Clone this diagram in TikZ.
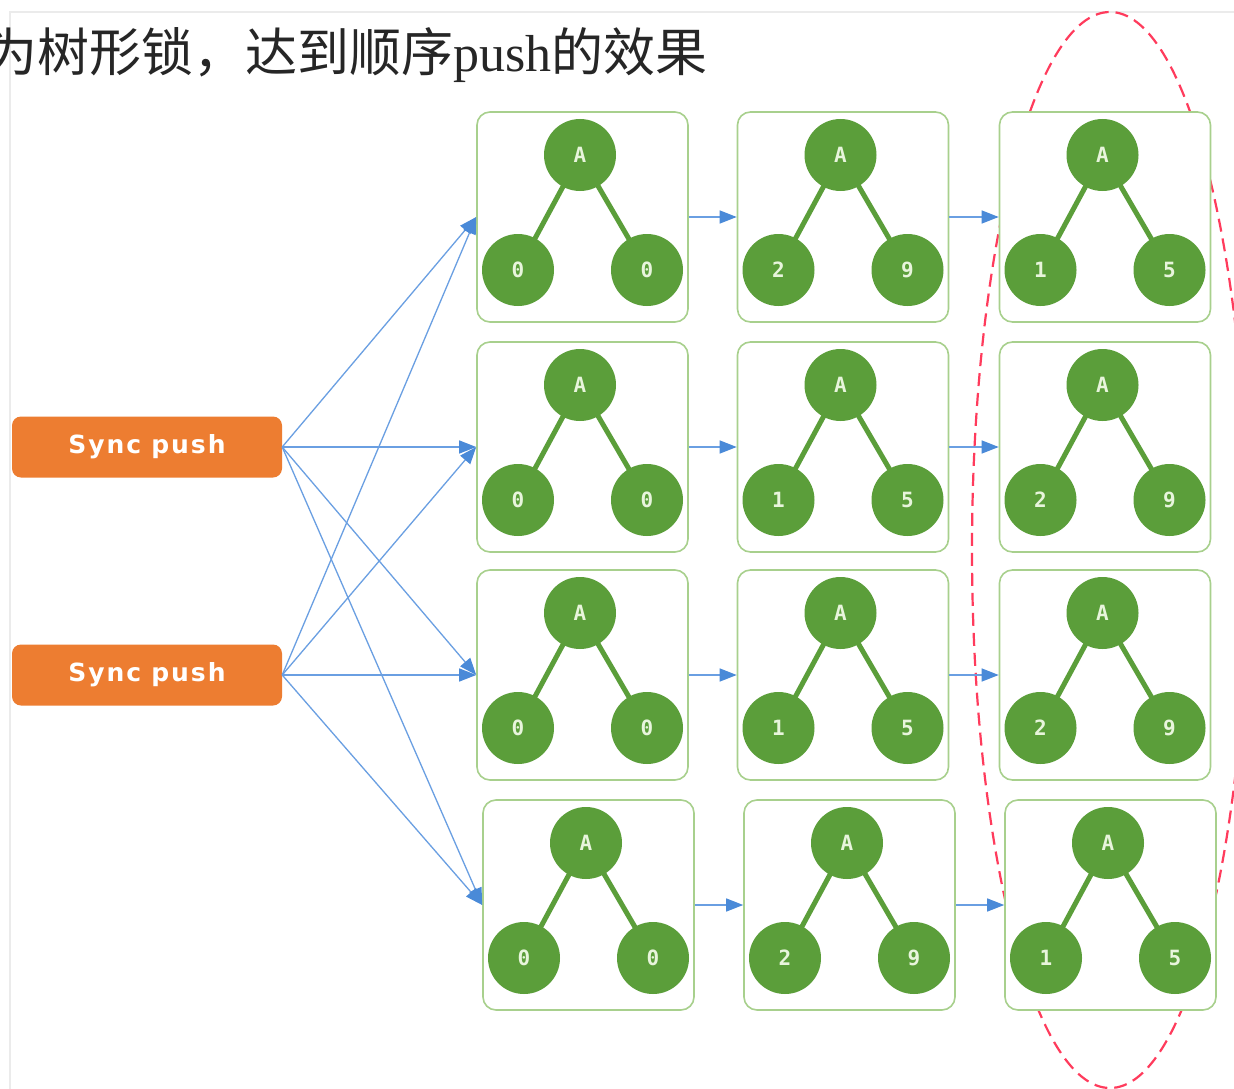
\documentclass[tikz,border=0pt]{standalone}
\usepackage{fontspec}
\newfontfamily\cjk{Noto Sans CJK SC}
\newfontfamily\titlelatin{Liberation Serif}
\newfontfamily\syncfont[LetterSpace=8]{DejaVu Sans}
\newfontfamily\labelmono{DejaVu Sans Mono}
\usetikzlibrary{arrows.meta}
\definecolor{boxgreen}{HTML}{A8D08D}
\definecolor{nodegreen}{HTML}{5B9E3A}
\definecolor{labelwhite}{HTML}{E8F5DC}
\definecolor{syncorange}{HTML}{ED7D31}
\definecolor{linkblue}{HTML}{6A9FE2}
\definecolor{tipblue}{HTML}{4A8AD8}
\definecolor{ovalred}{HTML}{FF3B5C}
\newcommand\treepanel[5]{%
  \node[treebox] (#1) at (#2,#3) {};
  \node[treenode] (#1A) at ({#2-2.5},{#3-62}) {A};
  \node[treenode] (#1L) at ({#2-64.5},{#3+53}) {#4};
  \node[treenode] (#1R) at ({#2+64.5},{#3+53}) {#5};
  \draw[treeedge] (#1A) -- (#1L);
  \draw[treeedge] (#1A) -- (#1R);
}
\begin{document}
\begin{tikzpicture}[x=1pt,y=-1pt,
  treebox/.style={draw=boxgreen, line width=1.6pt, fill=white, rounded corners=13pt,
    minimum width=211pt, minimum height=210pt, inner sep=0pt},
  treenode/.style={circle, fill=nodegreen, minimum size=72pt, inner sep=0pt,
    text=labelwhite, font=\labelmono\bfseries\fontsize{21}{21}\selectfont},
  treeedge/.style={draw=nodegreen, line width=5pt, shorten <=-2pt, shorten >=-2pt},
  syncbox/.style={rounded corners=9pt, fill=syncorange, minimum width=270pt,
    minimum height=61pt, inner sep=0pt, text=white, font=\syncfont\bfseries\fontsize{25}{25}\selectfont},
  link/.style={draw=linkblue, line width=1.3pt, -{Triangle[length=17pt,width=13pt,color=tipblue]}},
  frameline/.style={draw=black!8, line width=2pt},
  oval/.style={draw=ovalred, line width=2.2pt, dash pattern=on 13pt off 7pt}
]
\useasboundingbox (0,0) rectangle (1234,1089);
\clip (0,0) rectangle (1234,1089);
\fill[white] (0,0) rectangle (1234,1089);
\draw[frameline] (1234,12) -- (10,12) -- (10,1089);

\node[anchor=west, inner sep=0pt, text=black!85,
  font=\cjk\fontsize{52}{52}\selectfont] (title) at (-15,55)
  {为树形锁，达到顺序{\titlelatin push}的效果};

\draw[oval] (1110,550) ellipse [x radius=138pt, y radius=538pt];

\treepanel{b11}{582.5}{217}{0}{0}
\treepanel{b12}{843}{217}{2}{9}
\treepanel{b13}{1105}{217}{1}{5}
\treepanel{b21}{582.5}{447}{0}{0}
\treepanel{b22}{843}{447}{1}{5}
\treepanel{b23}{1105}{447}{2}{9}
\treepanel{b31}{582.5}{675}{0}{0}
\treepanel{b32}{843}{675}{1}{5}
\treepanel{b33}{1105}{675}{2}{9}
\treepanel{b41}{588.5}{905}{0}{0}
\treepanel{b42}{849.5}{905}{2}{9}
\treepanel{b43}{1110.5}{905}{1}{5}

\node[syncbox] (s1) at (147,447) {Sync\hspace{10pt}push};
\node[syncbox] (s2) at (147,675) {Sync\hspace{10pt}push};

\foreach \s in {s1,s2}{
  \foreach \b in {b11,b21,b31,b41}{
    \draw[link] (\s.east) -- (\b.west);
  }
}
\foreach \r in {1,2,3,4}{
  \draw[link] (b\r1.east) -- (b\r2.west);
  \draw[link] (b\r2.east) -- (b\r3.west);
}
\end{tikzpicture}
\end{document}
